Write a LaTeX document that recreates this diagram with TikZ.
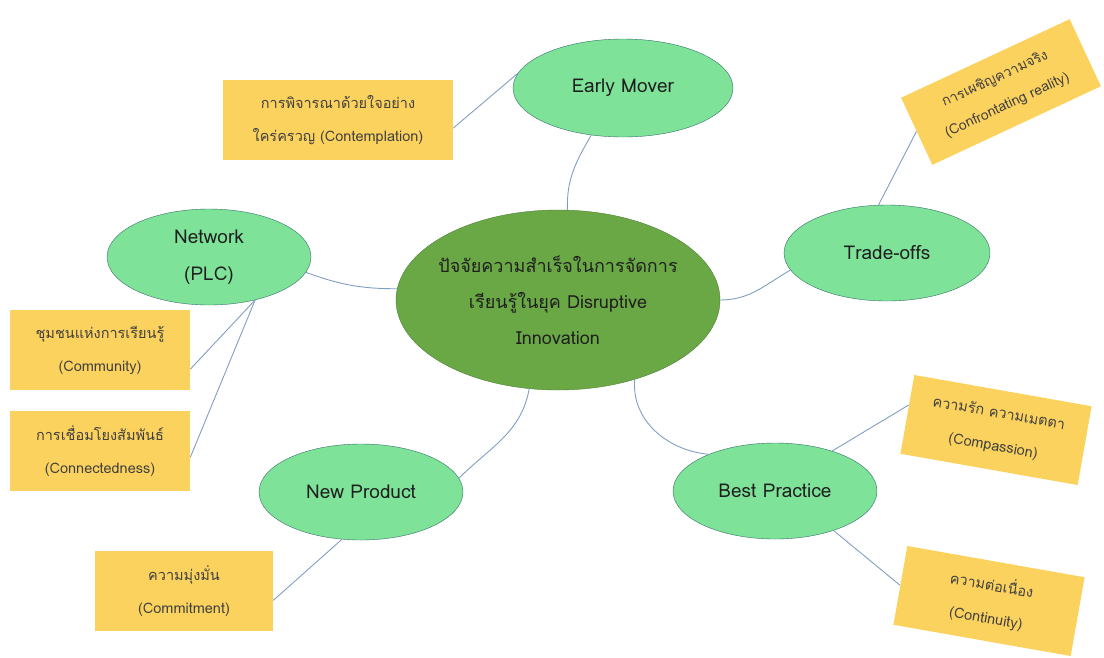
\documentclass[tikz,border=0pt]{standalone}
\usepackage{fontspec}
\setmainfont{Loma}[Script=Thai]
\usetikzlibrary{shapes.geometric}

\definecolor{hubgreen}{RGB}{106,168,69}
\definecolor{hubedge}{RGB}{78,128,58}
\definecolor{factorgreen}{RGB}{126,226,153}
\definecolor{factoredge}{RGB}{52,112,100}
\definecolor{noteyellow}{RGB}{252,210,94}
\definecolor{linkblue}{RGB}{128,158,195}

\begin{document}
\begin{tikzpicture}[x=1pt,y=-1pt,semithick]
          \tikzstyle{hub}=[ellipse,draw=hubedge,fill=hubgreen,thin,inner sep=-6pt,minimum width=324pt,minimum height=180pt,align=center,text=black!88,font=\fontsize{18}{36}\selectfont]
          \tikzstyle{factor}=[ellipse,draw=factoredge,fill=factorgreen,thin,inner sep=0pt,minimum width=204pt,minimum height=96pt,align=center,text=black!88,font=\fontsize{19}{37}\selectfont]
          \tikzstyle{note}=[rectangle,fill=noteyellow,minimum width=180pt,minimum height=80pt,align=center,text=black!75,font=\fontsize{14.5}{33}\selectfont]
          \tikzstyle{link}=[draw=linkblue,line width=0.9pt]
          \useasboundingbox (0,0) rectangle (1104,657);

          \node[hub]    (hub)   at (558,300) {ปัจจัยความสำเร็จในการจัดการ\\เรียนรู้ในยุค Disruptive\\Innovation};
          \node[factor,minimum width=220pt,minimum height=98pt] (early) at (623,88) {Early Mover};
          \node[factor] (net)   at (209,257) {Network\\(PLC)};
          \node[factor,minimum width=206pt] (trade) at (887,253) {Trade-offs};
          \node[factor] (newp)  at (361,492) {New Product};
          \node[factor] (best)  at (775,491) {Best Practice};

          \node[note,minimum width=230pt]                 (contemp)  at (338,120) {การพิจารณาด้วยใจอย่าง\\ใคร่ครวญ (Contemplation)};
          \node[note,minimum width=186pt,minimum height=74pt,rotate=25,font=\fontsize{14}{29}\selectfont] (confront) at (1001,92) {การเผชิญความจริง\\(Confrontating reality)};
          \node[note]                                     (commun)   at (100,350) {ชุมชนแห่งการเรียนรู้\\(Community)};
          \node[note]                                     (connect)  at (100,451) {การเชื่อมโยงสัมพันธ์\\(Connectedness)};
          \node[note,minimum width=178pt]                 (commit)   at (184,591) {ความมุ่งมั่น\\(Commitment)};
          \node[note,rotate=-10]                          (compas)   at (996,430) {ความรัก ความเมตตา\\(Compassion)};
          \node[note,rotate=-10]                          (contin)   at (989,601) {ความต่อเนื่อง\\(Continuity)};

          % hub to the five factors
          \path[link] (hub.84)  edge [out=92,in=240]  (early.236)
                      (hub.176) edge [out=180,in=-20] (net.351)
                      (hub.0)   edge [out=0,in=210]   (trade.190)
                      (hub.252) edge [out=-100,in=45] (newp.8)
                      (hub.314) edge [out=-95,in=175] (best.151);

          % factors to their notes
          \path[link] (early.172) edge (contemp.-4)
                      (net.317)   edge (commun.-12)
                                  edge (connect.-4)
                      (trade.100) edge (confront.west)
                      (newp.248)  edge (commit.-6)
                      (best.35)   edge (compas.174)
                      (best.326)  edge (contin.west);
        \end{tikzpicture}
\end{document}
